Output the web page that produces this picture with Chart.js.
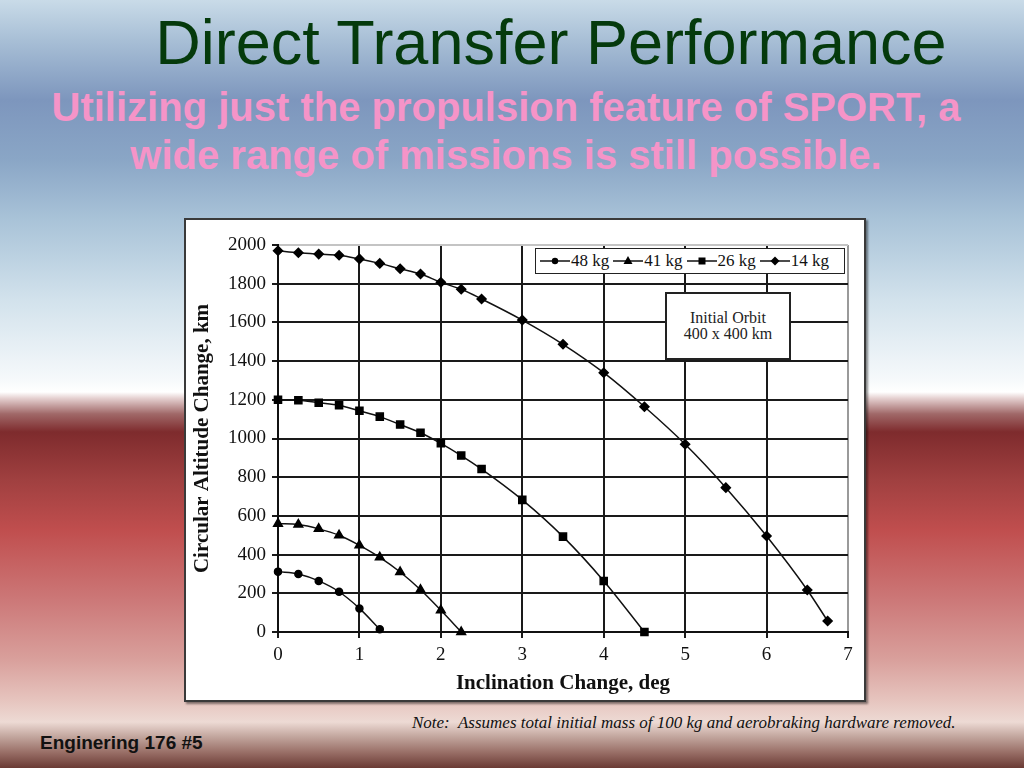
<!DOCTYPE html>
<html>
<head>
<meta charset="utf-8">
<script src="https://cdn.jsdelivr.net/npm/chart.js@4.4.0/dist/chart.umd.min.js"></script>
<style>
  html, body { margin: 0; padding: 0; }
  body {
    width: 1024px; height: 768px; overflow: hidden; position: relative;
    background: linear-gradient(to bottom,
      #c9dbe8 0px, #a8bfd6 40px, #7d96bd 100px, #8aa6c6 160px, #a9c3d8 220px,
      #d2e2ec 300px, #f6f9fb 380px, #ffffff 392px, #e6d2d2 398px, #a06868 414px,
      #7e2b2d 432px, #a04040 480px, #c04e4e 530px, #cc7878 600px, #d9a09c 660px,
      #e6c4be 700px, #eddad4 722px, #c4a8a0 736px, #9a7068 752px, #6a3a34 768px);
    font-family: "Liberation Sans", Arial, sans-serif;
  }
  .title {
    position: absolute; left: 0; width: 1102px; top: 6px; text-align: center;
    font-size: 63px; color: #053a0c; white-space: nowrap;
  }
  .subtitle {
    position: absolute; left: 0; width: 1012px; top: 83px; text-align: center;
    font-size: 40px; font-weight: bold; line-height: 48px; color: #f594c8; white-space: nowrap;
  }
  .panel {
    position: absolute; left: 184px; top: 218px; width: 678px; height: 480px;
    background: #fff; border: 2px solid #3a3a3a; box-shadow: 2px 2px 2px rgba(0,0,0,0.45);
  }
  .legend {
    position: absolute; left: 535px; top: 248px; width: 304px; height: 24px;
    background: #fff; border: 1.5px solid #222; display: flex; align-items: center;
    font-family: "Liberation Serif", serif; font-size: 17px; color: #111;
    padding-left: 4px; box-sizing: content-box;
  }
  .legend span { display: flex; align-items: center; margin-right: 4px; }
  .legend svg { margin-right: 1px; }
  .inset {
    position: absolute; left: 665px; top: 292px; width: 122px; height: 64px;
    background: #fff; border: 2px solid #222; text-align: center;
    font-family: "Liberation Serif", serif; font-size: 16px; line-height: 16px; color: #222;
  }
  .inset div:first-child { margin-top: 16px; }
  .note {
    position: absolute; left: 412px; top: 713px; font-family: "Liberation Serif", serif;
    font-style: italic; font-size: 17px; color: #111; white-space: pre;
  }
  .footer {
    position: absolute; left: 40px; top: 732px; font-size: 19px; font-weight: bold; color: #111;
  }
</style>
</head>
<body>
<div class="title">Direct Transfer Performance</div>
<div class="subtitle">Utilizing just the propulsion feature of SPORT, a<br>wide range of missions is still possible.</div>
<div class="panel"><canvas id="transferChart" width="678" height="480"></canvas></div>
<div class="legend" id="legend"></div>
<div class="inset"><div>Initial Orbit</div><div>400 x 400 km</div></div>
<div class="note">Note:  Assumes total initial mass of 100 kg and aerobraking hardware removed.</div>
<div class="footer">Enginering 176 #5</div>

<script>
// values
const seriesLabels = ['48 kg', '41 kg', '26 kg', '14 kg'];

const incl48 = [0, 0.25, 0.5, 0.75, 1, 1.25];
const alt48 = [312, 300, 264, 208, 122, 14];

const incl41 = [0, 0.25, 0.5, 0.75, 1, 1.25, 1.5, 1.75, 2, 2.25];
const alt41 = [560, 555, 533, 500, 448, 386, 310, 218, 112, 0];

const incl26 = [0, 0.25, 0.5, 0.75, 1, 1.25, 1.5, 1.75, 2, 2.25, 2.5, 3, 3.5, 4, 4.5];
const alt26 = [1200, 1198, 1185, 1172, 1143, 1113, 1072, 1030, 975, 912, 842, 683, 493, 264, 0];

const incl14 = [0, 0.25, 0.5, 0.75, 1, 1.25, 1.5, 1.75, 2, 2.25, 2.5, 3, 3.5, 4, 4.5, 5, 5.5, 6, 6.5, 6.75];
const alt14 = [1970, 1960, 1953, 1947, 1928, 1905, 1877, 1850, 1807, 1771, 1721, 1612, 1487, 1340, 1164, 970, 746, 496, 217, 57];

const xTicks = [0, 1, 2, 3, 4, 5, 6, 7];
const yTicks = [0, 200, 400, 600, 800, 1000, 1200, 1400, 1600, 1800, 2000];

const pointStyles = ['circle', 'triangle', 'rect', 'rectRot'];
const pointSizes = [3.5, 5, 5, 4.5];

function toPoints(xs, ys) {
  return xs.map((x, i) => ({ x: x, y: ys[i] }));
}

const serifFont = '"Liberation Serif", "Times New Roman", serif';
const allData = [toPoints(incl48, alt48), toPoints(incl41, alt41), toPoints(incl26, alt26), toPoints(incl14, alt14)];

const ctx = document.getElementById('transferChart').getContext('2d');

new Chart(ctx, {
  type: 'scatter',
  data: {
    datasets: allData.map((pts, i) => ({
      label: seriesLabels[i],
      data: pts,
      showLine: true,
      borderColor: '#111',
      borderWidth: 1.5,
      backgroundColor: '#000',
      pointBackgroundColor: '#000',
      pointBorderColor: '#000',
      pointStyle: pointStyles[i],
      pointRadius: pointSizes[i],
      cubicInterpolationMode: 'monotone',
      clip: false
    }))
  },
  options: {
    responsive: false,
    animation: false,
    layout: { padding: { top: 25, right: 16, left: 0, bottom: 0 } },
    plugins: {
      legend: { display: false },
      tooltip: { enabled: false }
    },
    scales: {
      x: {
        type: 'linear',
        min: xTicks[0],
        max: xTicks[xTicks.length - 1],
        afterFit: (scale) => { scale.height = 68; },
        afterBuildTicks: (scale) => { scale.ticks = xTicks.map(v => ({ value: v })); },
        grid: {
          color: (c) => c.tick && c.tick.value === 7 ? '#9a9a9a' : '#1a1a1a',
          lineWidth: 2,
          tickLength: 6,
          tickColor: '#1a1a1a'
        },
        border: { color: '#111', width: 2 },
        ticks: {
          font: { family: serifFont, size: 19 }, color: '#111', padding: 6,
          callback: (v) => String(v)
        },
        title: {
          display: true,
          text: 'Inclination Change, deg',
          font: { family: serifFont, size: 21, weight: 'bold' },
          color: '#111',
          padding: { top: 0, bottom: 4 }
        }
      },
      y: {
        min: yTicks[0],
        max: yTicks[yTicks.length - 1],
        afterFit: (scale) => { scale.width = 92; },
        afterBuildTicks: (scale) => { scale.ticks = yTicks.map(v => ({ value: v })); },
        grid: {
          color: (c) => c.tick && c.tick.value === 2000 ? '#c4c4c4' : '#1a1a1a',
          lineWidth: 2,
          tickLength: 6,
          tickColor: '#1a1a1a'
        },
        border: { color: '#111', width: 2 },
        ticks: {
          font: { family: serifFont, size: 19 }, color: '#111', padding: 6,
          callback: (v) => String(v)
        },
        title: {
          display: true,
          text: 'Circular Altitude Change, km',
          font: { family: serifFont, size: 21, weight: 'bold' },
          color: '#111',
          padding: { top: 4, bottom: 0 }
        }
      }
    }
  }
});

// legend: line with marker, then label
function markerSvg(style) {
  let m = '';
  if (style === 'circle') m = '<circle cx="15" cy="7" r="3.2" fill="#000"/>';
  if (style === 'triangle') m = '<polygon points="15,2 19.5,10 10.5,10" fill="#000"/>';
  if (style === 'rect') m = '<rect x="11.5" y="3.5" width="7" height="7" fill="#000"/>';
  if (style === 'rectRot') m = '<polygon points="15,2.5 19.5,7 15,11.5 10.5,7" fill="#000"/>';
  return '<svg width="30" height="14"><line x1="0" y1="7" x2="30" y2="7" stroke="#111" stroke-width="1.5"/>' + m + '</svg>';
}
document.getElementById('legend').innerHTML = seriesLabels
  .map((lab, i) => '<span>' + markerSvg(pointStyles[i]) + lab + '</span>')
  .join('');
</script>
</body>
</html>
